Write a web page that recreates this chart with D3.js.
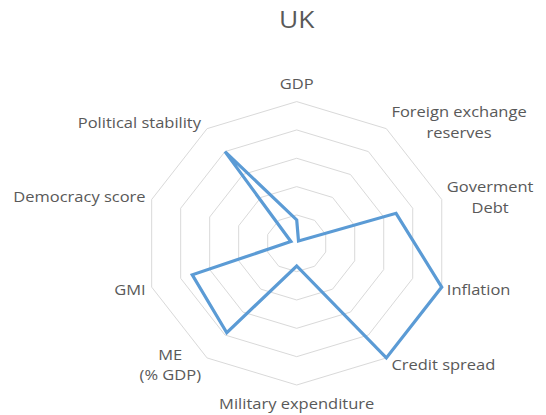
<!DOCTYPE html>
<html>
<head>
<meta charset="utf-8">
<script src="https://cdn.jsdelivr.net/npm/d3@7/dist/d3.min.js"></script>
<style>
  body { margin: 0; background: #fff; }
  text { font-family: "Open Sans", sans-serif; fill: #595959; }
</style>
</head>
<body>
<svg id="chart" width="546" height="415"></svg>
<script>
// Radar chart: UK indicator profile
const chartTitle = "UK";
const axisLabels = [
  ["GDP"],
  ["Foreign exchange", "reserves"],
  ["Goverment", "Debt"],
  ["Inflation"],
  ["Credit spread"],
  ["Military expenditure"],
  ["ME", "(% GDP)"],
  ["GMI"],
  ["Democracy score"],
  ["Political stability"]
];
const ukValues = [0.165, 0.02, 0.685, 1.0, 1.0, 0.16, 0.78, 0.72, 0.04, 0.8];
const ringLevels = [0.2, 0.4, 0.6, 0.8, 1.0];

const width = 546, height = 415;
const cx = 296.7, cy = 243.3;
const textStretch = 1.1;
const svg = d3.select("#chart");
svg.append("rect").attr("width", width).attr("height", height).attr("fill", "#fff");

const n = axisLabels.length;
const angle = d3.scaleLinear().domain([0, n]).range([0, 2 * Math.PI]);
const rx = d3.scaleLinear().domain([0, 1]).range([0, 152.5]);
const ry = d3.scaleLinear().domain([0, 1]).range([0, 141.7]);

const px = (i, v) => cx + rx(v) * Math.sin(angle(i));
const py = (i, v) => cy - ry(v) * Math.cos(angle(i));

const closedLine = d3.line().x(d => d[0]).y(d => d[1]).curve(d3.curveLinearClosed);

// Grid rings
svg.append("g").selectAll("path").data(ringLevels).join("path")
  .attr("d", lv => closedLine(d3.range(n).map(i => [px(i, lv), py(i, lv)])))
  .attr("fill", "none")
  .attr("stroke", "#d9d9d9")
  .attr("stroke-width", 1);

// Series
svg.append("path")
  .datum(ukValues)
  .attr("d", vals => closedLine(vals.map((v, i) => [px(i, v), py(i, v)])))
  .attr("fill", "none")
  .attr("stroke", "#5b9bd5")
  .attr("stroke-width", 3.2)
  .attr("stroke-linejoin", "miter");

// Title
svg.append("text")
  .attr("transform", `translate(${cx},28) scale(${textStretch},1)`)
  .attr("text-anchor", "middle")
  .attr("font-size", 24)
  .text(chartTitle);

// Axis labels, placed just outside each outer vertex
const fontSize = 15, lineH = 20.5;
const labelG = svg.append("g").attr("font-size", fontSize);
axisLabels.forEach((lines, i) => {
  const a = angle(i);
  const s = Math.sin(a), c = Math.cos(a);
  const vx = px(i, 1), vy = py(i, 1);
  const g = labelG.append("g");
  const texts = lines.map(t => g.append("text").attr("text-anchor", "middle").attr("dy", "0.36em").text(t));
  const w = textStretch * d3.max(texts, t => t.node().getComputedTextLength());
  const blockH = (lines.length - 1) * lineH;
  let bx, by; // block center
  if (Math.abs(s) < 0.1) {
    bx = vx;
    by = vy - 18.3 * c;
  } else if (s > 0) {
    bx = vx + 5 + w / 2;
    by = vy - 8 * c;
  } else {
    bx = vx - 6 - w / 2;
    by = vy - 8 * c;
  }
  texts.forEach((t, k) => {
    t.attr("transform", `translate(${bx},${by - blockH / 2 + lineH * k}) scale(${textStretch},1)`);
  });
});
</script>
</body>
</html>
